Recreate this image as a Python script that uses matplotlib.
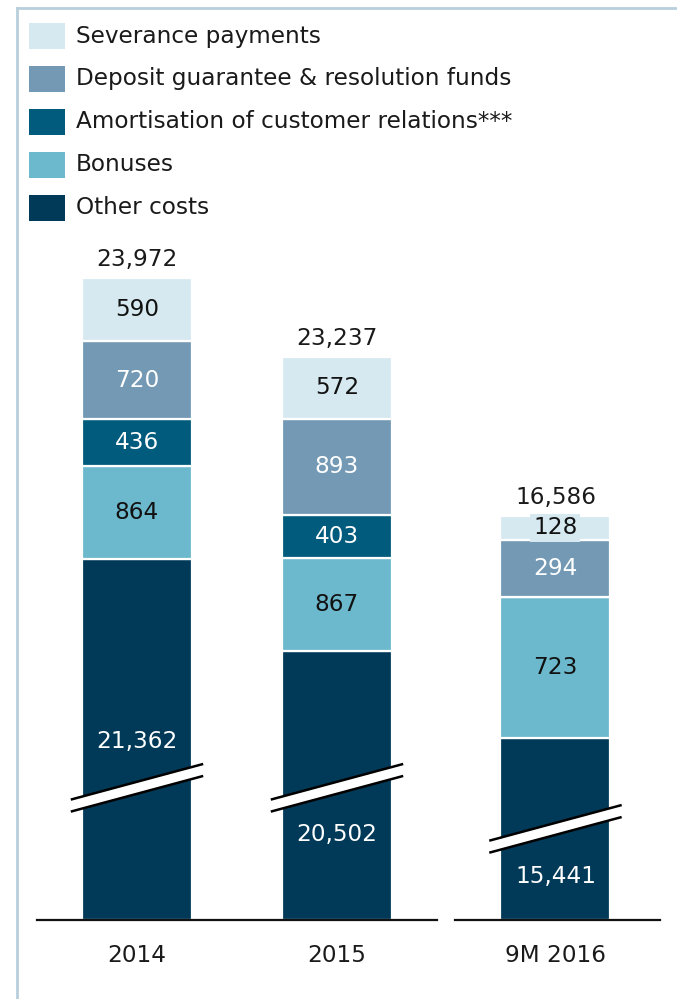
import matplotlib
matplotlib.use('Agg')
import numpy as np
from matplotlib import pyplot as plt
from matplotlib.patches import Rectangle, Polygon
from matplotlib.lines import Line2D
from matplotlib.transforms import IdentityTransform

plt.rcParams['font.family'] = ['DejaVu Sans']

# cost components per period (EUR m)
periods = ['2014', '2015', '9M 2016']
series = ['Other costs', 'Bonuses', 'Amortisation of customer relations***',
          'Deposit guarantee & resolution funds', 'Severance payments']
other_costs = [21362, 20502, 15441]
bonuses = [864, 867, 723]
amortisation = [436, 403, 0]
deposit_funds = [720, 893, 294]
severance = [590, 572, 128]
totals = [23972, 23237, 16586]

colors = ['#003a58', '#6cb9cd', '#005b7c', '#7399b4', '#d6e9f1']
text_colors = ['white', '#111111', 'white', 'white', '#111111']
DARK = '#1a1a1a'
FS = 16.7

W, H, DPI = 677, 999, 100
fig = plt.figure(figsize=(W / DPI, H / DPI), dpi=DPI)


def px_box(x0, x1, y_bottom, y_top):
    # pixel coords (from top-left) -> figure fraction rect
    return [x0 / W, 1 - y_bottom / H, (x1 - x0) / W, (y_bottom - y_top) / H]


# two panels: full years share one cut scale, 9M 2016 sits on its own
ax1 = fig.add_axes(px_box(37, 437, 920, 240))
ax2 = fig.add_axes(px_box(455, 660, 920, 240))
ax1.set_ylim(18000, 24326)
ax1.set_xlim(-0.5, 1.5)
ax2.set_ylim(14500, 18007)
ax2.set_xlim(-0.49, 0.51)

panels = [(ax1, [0, 1], 0.55), (ax2, [2], 0.537)]
stack = [other_costs, bonuses, amortisation, deposit_funds, severance]

# where the other-costs bar gets cut, and where its label sits
break_at = {0: 19230, 1: 19230, 2: 14970}
other_label_at = {0: 19656, 1: 18791, 2: 14722}

for ax, idx, width in panels:
    xs = np.arange(len(idx))
    base = np.full(len(idx), float(ax.get_ylim()[0]))
    for k, vals in enumerate(stack):
        v = np.array([vals[i] for i in idx], dtype=float)
        bottom = base.copy()
        if k == 0:
            heights = v - base
        else:
            heights = v
        ax.bar(xs, heights, width, bottom=bottom, color=colors[k],
               edgecolor='white', linewidth=1.6, zorder=2)
        for j, i in enumerate(idx):
            if v[j] == 0:
                continue
            if k == 0:
                y = other_label_at[i]
            else:
                y = bottom[j] + heights[j] / 2
            kw = {}
            if k == 4 and heights[j] < 200:
                kw['bbox'] = dict(boxstyle='square,pad=0.12', fc=colors[4], ec='none')
            ax.text(xs[j], y, f'{int(v[j]):,}', ha='center', va='center',
                    color=text_colors[k], fontsize=FS, zorder=5, **kw)
        base = bottom + heights
    for j, i in enumerate(idx):
        ax.annotate(f'{totals[i]:,}', (xs[j], base[j]), xytext=(0, 5),
                    textcoords='offset points', ha='center', va='bottom',
                    color=DARK, fontsize=FS)

    ax.set_xticks(xs)
    ax.set_xticklabels([periods[i] for i in idx], fontsize=FS, color=DARK)
    ax.tick_params(axis='x', length=0, pad=17)
    ax.set_yticks([])
    for s in ['top', 'right', 'left']:
        ax.spines[s].set_visible(False)
    ax.spines['bottom'].set_linewidth(1.6)
    ax.spines['bottom'].set_color('#111111')

# axis break marks drawn in pixel space across each bar
fig.canvas.draw()
for ax, idx, width in panels:
    for j, i in enumerate(idx):
        cx, cy = ax.transData.transform((j, break_at[i]))
        half_w, rise, gap = 65, 17.5, 6
        top_line = [(cx - half_w, cy - rise + gap), (cx + half_w, cy + rise + gap)]
        bot_line = [(cx - half_w, cy - rise - gap), (cx + half_w, cy + rise - gap)]
        band = Polygon(top_line + bot_line[::-1], closed=True, fc='white',
                       ec='none', transform=IdentityTransform(), zorder=6)
        fig.add_artist(band)
        for ln in (top_line, bot_line):
            (x0, y0), (x1, y1) = ln
            fig.add_artist(Line2D([x0, x1], [y0, y1], color='black', lw=1.8,
                                  transform=IdentityTransform(), zorder=7))

# legend, top entry = top of stack
for r, k in enumerate(range(len(series) - 1, -1, -1)):
    yc = 36 + r * 43
    fig.add_artist(Rectangle((29 / W, 1 - (yc + 13) / H), 36 / W, 26 / H,
                             transform=fig.transFigure, fc=colors[k], ec='none'))
    fig.text(76 / W, 1 - yc / H, series[k], ha='left', va='center',
             fontsize=FS, color=DARK)

# thin frame on the left and top
frame = '#b9cfdd'
fig.add_artist(Line2D([17 / W, 17 / W], [0, 1 - 8 / H], color=frame, lw=2,
                      transform=fig.transFigure))
fig.add_artist(Line2D([17 / W, 1], [1 - 8 / H, 1 - 8 / H], color=frame, lw=2,
                      transform=fig.transFigure))

fig.savefig('out.png', dpi=DPI)
